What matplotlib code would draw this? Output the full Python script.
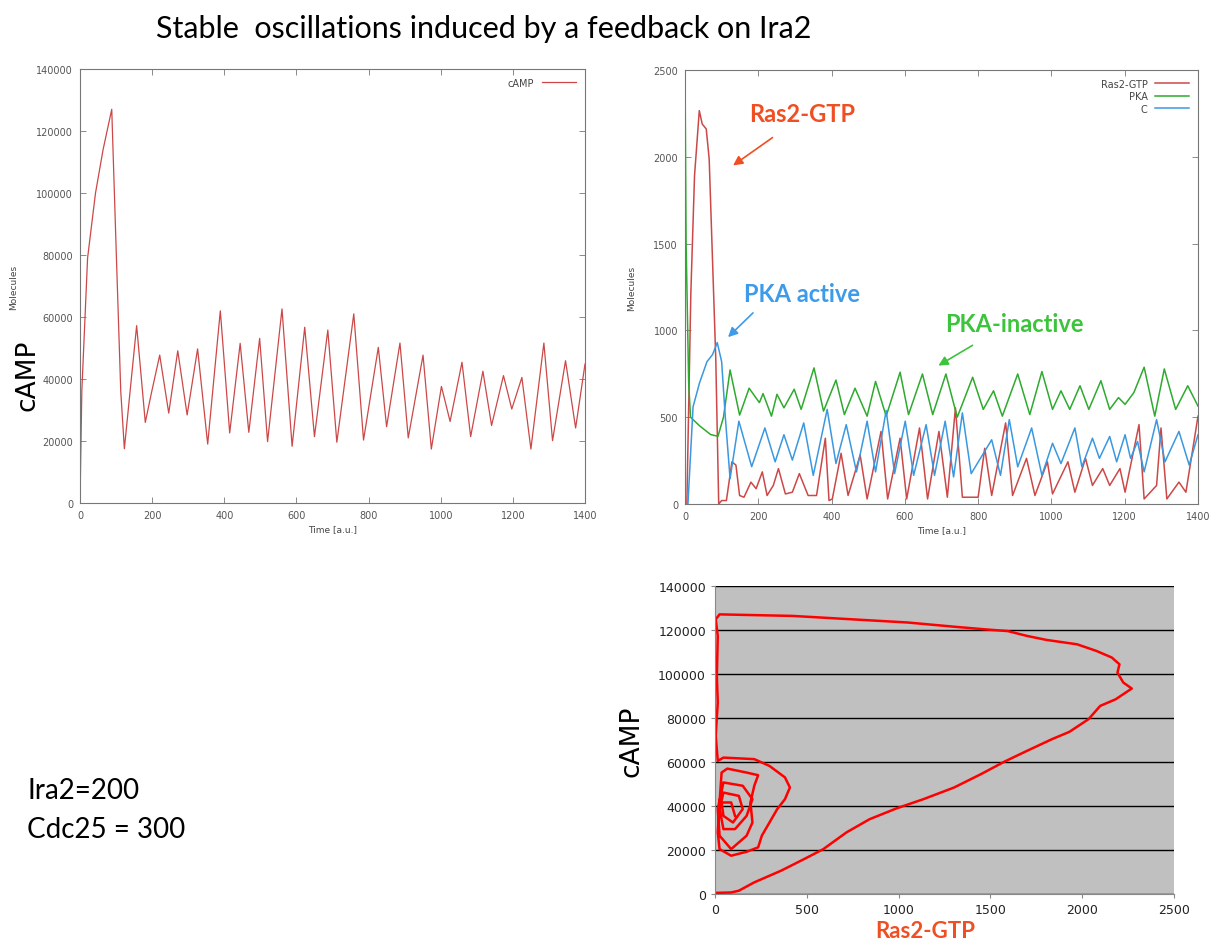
import matplotlib
matplotlib.use("Agg")
import matplotlib.pyplot as plt

# --- data ------------------------------------------------------------------
# cAMP time course (left top panel)
camp_t = [0, 5, 21, 43, 64, 88, 101, 113, 123, 157, 181, 198, 221, 246, 271, 297, 326, 354, 389, 415,
          444, 468, 498, 520, 560, 588, 623, 650, 687, 712, 759, 786, 827, 850, 887, 910, 951, 974, 1002,
          1026, 1059, 1083, 1117, 1141, 1174, 1197, 1225, 1250, 1286, 1310, 1346, 1374, 1400]
camp_v = [0, 36000, 79000, 100000, 114000, 127000, 79000, 36000, 17500, 57200, 26000, 35500, 47700, 29000,
          49100, 28400, 49700, 19000, 62000, 22600, 51500, 22800, 53100, 19800, 62600, 18300, 56700, 21400,
          55800, 19600, 61000, 20300, 50200, 24600, 51600, 21000, 47700, 17400, 37600, 26300, 45400, 21400,
          42500, 25000, 41100, 30300, 40500, 17400, 51600, 20100, 45900, 24200, 44800]

# Ras2-GTP, PKA and C time courses (right top panel)
ras_t = [0, 5, 16, 26, 39, 47, 58, 66, 84, 92, 100, 113, 128, 139, 149, 161, 180, 194, 211, 224,
         241, 255, 274, 293, 312, 336, 359, 383, 393, 402, 426, 445, 478, 497, 535, 553, 587, 605, 640, 662,
         693, 716, 738, 757, 800, 818, 837, 875, 894, 932, 955, 989, 1003, 1045, 1064, 1093, 1112, 1140, 1159,
         1187, 1201, 1239, 1253, 1287, 1299, 1315, 1348, 1367, 1400]
ras_v = [0, 0, 1219, 1891, 2266, 2189, 2160, 1987, 835, 0, 20, 20, 243, 224, 49, 39, 126, 88, 185, 49,
         107, 204, 58, 68, 175, 49, 49, 379, 20, 29, 292, 49, 282, 29, 418, 29, 379, 29, 438, 29,
         418, 39, 554, 39, 39, 321, 49, 467, 49, 263, 49, 243, 58, 243, 68, 263, 107, 204, 107,
         204, 68, 457, 29, 107, 438, 29, 126, 68, 506]

pka_t = [0, 3, 10, 15, 40, 70, 90, 105, 123, 149, 175, 203, 213, 236, 251, 270, 298, 317, 352, 378,
         412, 435, 464, 497, 520, 549, 587, 610, 648, 676, 712, 743, 785, 814, 842, 866, 908, 941, 974,
         1003, 1026, 1050, 1078, 1102, 1135, 1159, 1183, 1201, 1225, 1253, 1282, 1308, 1339, 1372, 1400]
pka_v = [2500, 1500, 700, 500, 450, 400, 390, 500, 772, 512, 667, 584, 636, 506, 632, 554, 661, 545, 784, 535,
         714, 515, 667, 506, 706, 506, 759, 515, 749, 515, 749, 500, 730, 545, 652, 506, 749, 515, 763,
         545, 652, 545, 681, 545, 710, 545, 613, 574, 642, 788, 506, 778, 545, 681, 564]

c_t = [0, 8, 22, 40, 60, 75, 88, 100, 110, 123, 147, 182, 218, 246, 270, 293, 324, 350, 388, 412,
       440, 468, 497, 520, 549, 572, 601, 624, 658, 681, 710, 733, 757, 781, 837, 861, 885, 908, 946, 974,
       1003, 1026, 1064, 1083, 1112, 1131, 1159, 1178, 1201, 1216, 1235, 1253, 1287, 1310, 1348, 1376, 1400]
c_v = [0, 0, 560, 700, 820, 860, 930, 820, 500, 146, 477, 215, 438, 243, 399, 253, 467, 165, 545, 233,
       457, 185, 477, 185, 539, 175, 477, 165, 457, 165, 477, 156, 525, 175, 370, 165, 486, 214, 438, 165,
       350, 233, 438, 214, 379, 263, 389, 243, 399, 263, 360, 185, 486, 243, 418, 224, 399]

# phase portrait: Ras2-GTP vs cAMP (bottom panel)
phase_ras = [0, 88, 130, 214, 360, 486, 590, 716, 842, 988, 1135, 1302, 1449, 1575, 1700, 1836, 1930, 2035,
             2098, 2182, 2270, 2224, 2192, 2203, 2161, 2077, 1972, 1805, 1700, 1595, 1470, 1302, 1051, 737,
             423, 25, 4, 15, 10, 15, 4, 15, 46, 214, 297, 381, 408, 381, 339, 255, 235, 172, 88, 25, 15, 25,
             36, 67, 172, 235, 214, 193, 204, 172, 88, 25, 15, 46, 151, 204, 172, 109, 46, 25, 46, 130, 151,
             98, 46, 36, 88, 109]
phase_camp = [500, 700, 1500, 5300, 10600, 15900, 20400, 28000, 34000, 38900, 43100, 48400, 54500, 60100,
              65100, 70400, 73700, 79500, 85500, 88500, 93400, 96100, 100600, 104400, 107500, 110500, 113500,
              115500, 117300, 119500, 120300, 121500, 123400, 124900, 126400, 127100, 124900, 117300, 99000,
              87000, 71900, 60500, 62000, 61300, 58200, 53000, 48400, 43100, 38600, 26500, 21200, 19200,
              17400, 20400, 28000, 41600, 55200, 57000, 55200, 54000, 49200, 41600, 32500, 26500, 20400,
              26500, 38600, 50700, 49200, 43100, 35500, 29500, 29500, 38600, 46100, 44600, 38600, 32500,
              35500, 41600, 41600, 35500]

# --- colours ----------------------------------------------------------------
RED_LINE   = "#cc4848"
GREEN_LINE = "#2eaa2e"
BLUE_LINE  = "#3a98e0"
ANN_RED    = "#f04e23"
ANN_BLUE   = "#3d9be9"
ANN_GREEN  = "#3cc43c"
TXT_FONT   = ["Lato", "DejaVu Sans"]


def style_gnuplot(ax, ymax, ystep):
    ax.set_xlim(0, 1400)
    ax.set_ylim(0, ymax)
    ax.set_xticks(range(0, 1401, 200))
    ax.set_yticks(range(0, ymax + 1, ystep))
    ax.tick_params(direction="in", top=True, right=True, length=4, width=0.6,
                   labelsize=7, labelcolor="#555555", color="#777777", pad=5)
    for s in ax.spines.values():
        s.set_color("#777777")
        s.set_linewidth(0.8)
    ax.set_xlabel("Time [a.u.]", fontsize=6.5, color="#444444", labelpad=3)


fig = plt.figure(figsize=(12.10, 9.53), dpi=100)

# top left: cAMP
ax1 = fig.add_axes([80 / 1210, 1 - 504 / 953, 505 / 1210, 434 / 953])
ax1.plot(camp_t, camp_v, color=RED_LINE, lw=0.9, label="cAMP")
style_gnuplot(ax1, 140000, 20000)
ax1.set_ylabel("Molecules", fontsize=6.5, color="#444444")
ax1.yaxis.set_label_coords(-0.123, 0.5)
ax1.legend(loc="upper right", frameon=False, fontsize=7, markerfirst=False,
           handlelength=3.5, borderaxespad=0.5, labelcolor="#444444")

# top right: Ras2-GTP, PKA, C
ax2 = fig.add_axes([685 / 1210, 1 - 505 / 953, 513 / 1210, 434 / 953])
ax2.plot(ras_t, ras_v, color=RED_LINE, lw=1.1, label="Ras2-GTP")
ax2.plot(pka_t, pka_v, color=GREEN_LINE, lw=1.1, label="PKA")
ax2.plot(c_t, c_v, color=BLUE_LINE, lw=1.1, label="C")
style_gnuplot(ax2, 2500, 500)
ax2.set_ylabel("Molecules", fontsize=6.5, color="#444444")
ax2.yaxis.set_label_coords(-0.095, 0.5)
ax2.legend(loc="upper right", frameon=False, fontsize=7, markerfirst=False,
           handlelength=3.5, borderaxespad=0.5, labelspacing=0.25, labelcolor="#444444")

ann = dict(fontsize=17, fontweight="bold", family=TXT_FONT, ha="center", va="center")
ax2.text(319, 2247, "Ras2-GTP", color=ANN_RED, **ann)
ax2.annotate("", xy=(125, 1941), xytext=(245, 2120),
             arrowprops=dict(arrowstyle="-|>", color=ANN_RED, lw=1.2, mutation_scale=14))
ax2.text(319, 1210, "PKA active", color=ANN_BLUE, **ann)
ax2.annotate("", xy=(112, 950), xytext=(191, 1112),
             arrowprops=dict(arrowstyle="-|>", color=ANN_BLUE, lw=1.2, mutation_scale=14))
ax2.text(898, 1037, "PKA-inactive", color=ANN_GREEN, **ann)
ax2.annotate("", xy=(685, 789), xytext=(791, 922),
             arrowprops=dict(arrowstyle="-|>", color=ANN_GREEN, lw=1.2, mutation_scale=14))

# bottom right: phase portrait
ax3 = fig.add_axes([715 / 1210, 1 - 895 / 953, 459 / 1210, 308 / 953])
ax3.set_facecolor("#c0c0c0")
ax3.plot(phase_ras, phase_camp, color="#ff0000", lw=1.8)
ax3.set_xlim(0, 2500)
ax3.set_ylim(0, 140000)
ax3.set_xticks(range(0, 2501, 500))
ax3.set_yticks(range(0, 140001, 20000))
ax3.yaxis.grid(True, color="black", lw=1)
ax3.set_axisbelow(True)
ax3.tick_params(direction="out", length=3, width=0.8, labelsize=9, labelcolor="#222222", color="#888888")
for side in ("top", "right"):
    ax3.spines[side].set_visible(False)
for side in ("left", "bottom"):
    ax3.spines[side].set_color("#888888")
ax3.set_xlabel("Ras2-GTP", fontsize=16, fontweight="bold", color=ANN_RED, family=TXT_FONT)
ax3.xaxis.set_label_coords(0.457, -0.085)
ax3.set_ylabel("cAMP", fontsize=19, color="black", labelpad=10)

# free text
fig.text(484 / 1210, 1 - 29 / 953, "Stable  oscillations induced by a feedback on Ira2",
         fontsize=22, family=TXT_FONT, ha="center", va="center")
fig.text(27 / 1210, 1 - 375 / 953, "cAMP", fontsize=19, rotation=90, ha="center", va="center")
fig.text(27 / 1210, 1 - 791 / 953, "Ira2=200", fontsize=20, family=TXT_FONT, ha="left", va="center")
fig.text(27 / 1210, 1 - 830 / 953, "Cdc25 = 300", fontsize=20, family=TXT_FONT, ha="left", va="center")

fig.savefig("out.png", dpi=100, facecolor="white")
